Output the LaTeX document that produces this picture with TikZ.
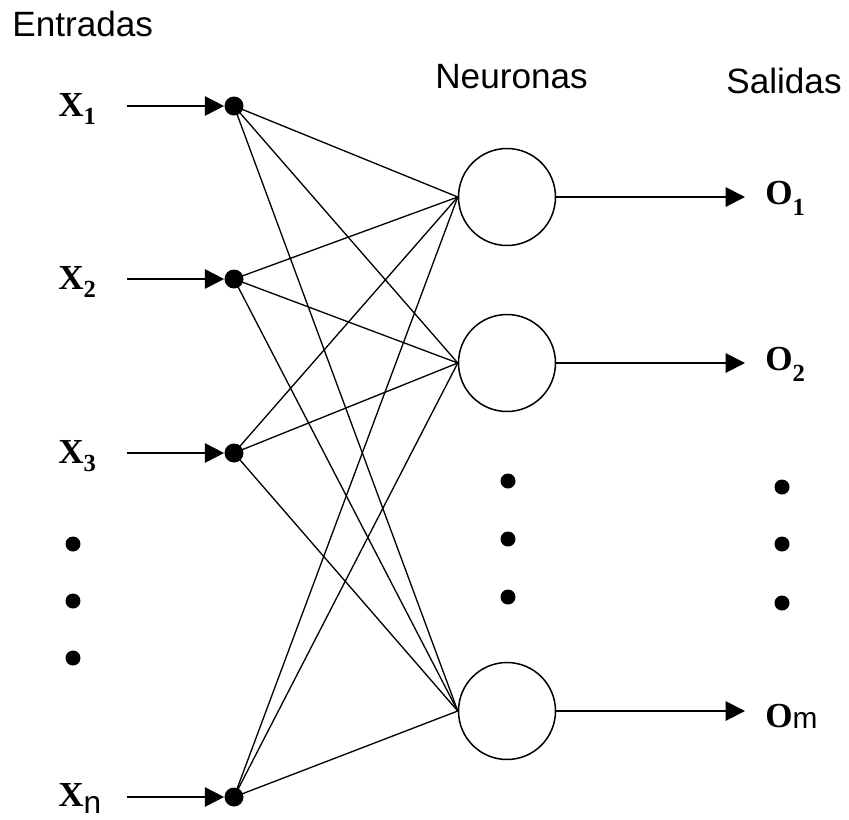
\documentclass[tikz,border=0pt]{standalone}
\usepackage{fontspec}
\usepackage{graphicx}
\setmainfont{Liberation Serif}
\newfontfamily\arial{Liberation Sans}
\usetikzlibrary{arrows.meta}
\newcommand{\xsub}[1]{\raisebox{-5pt}{\fontsize{14}{14}\selectfont\bfseries #1}}
\newcommand{\osub}[1]{\raisebox{-6.5pt}{\fontsize{14}{14}\selectfont\bfseries #1}}
\begin{document}
\begin{tikzpicture}[x=0.02cm, y=-0.02cm,
  entrada/.style={circle, fill, inner sep=0pt, minimum size=0.38cm},
  punto/.style={circle, fill, inner sep=0pt, minimum size=0.3cm},
  neurona/.style={circle, draw, line width=0.85pt, minimum size=1.94cm, inner sep=0pt},
  flecha/.style={line width=1.1pt, -{Triangle[length=11pt, width=11pt]}},
  peso/.style={line width=0.75pt},
  titulo/.style={font=\arial\fontsize{20}{24}\selectfont, anchor=base west, inner sep=0pt},
  etiqueta/.style={font=\fontsize{20}{22}\selectfont\bfseries, anchor=base west, inner sep=0pt}]
  \useasboundingbox (0,0) rectangle (849,819);
  % titles
  \node[titulo] (entradas) at (12,36) {Entradas};
  \node[titulo] (neuronas) at (435,88) {Neuronas};
  \node[titulo] (salidas) at (726,93) {Salidas};
  % inputs
  \foreach \n/\y in {1/106, 2/279, 3/453, n/797} {
    \node[entrada] (in\n) at (234,\y) {};
    \coordinate (a\n) at (127,\y);
    \draw[flecha] (a\n) -- (in\n);
  }
  \node[etiqueta] (x1) at (58,116) {X\xsub{1}};
  \node[etiqueta] (x2) at (58,289) {X\xsub{2}};
  \node[etiqueta] (x3) at (58,463) {X\xsub{3}};
  \node[etiqueta] (xn) at (58,806) {X\raisebox{-4.5pt}{\arial\mdseries\fontsize{18}{18}\selectfont n}};
  % neurons
  \foreach \n/\y in {1/197, 2/363, m/711} {
    \node[neurona] (ne\n) at (507,\y) {};
    \coordinate (s\n) at (745,\y);
    \draw[flecha] (ne\n) -- (s\n);
  }
  % weights
  \foreach \i in {1,2,3,n}
    \foreach \j in {1,2,m}
      \draw[peso] (in\i.center) -- (ne\j.west);
  % outputs
  \node[etiqueta] (o1) at (765,204) {O\osub{1}};
  \node[etiqueta] (o2) at (765,370) {O\osub{2}};
  \node[etiqueta] (om) at (765,727) {O\raisebox{-1pt}{\arial\mdseries\fontsize{17}{17}\selectfont m}};
  % dots
  \foreach \y [count=\k] in {544,601,658} \node[punto] (pe\k) at (73,\y) {};
  \foreach \y [count=\k] in {481,539,597} \node[punto] (pn\k) at (508,\y) {};
  \foreach \y [count=\k] in {487,544,603} \node[punto] (ps\k) at (782,\y) {};
\end{tikzpicture}
\end{document}
